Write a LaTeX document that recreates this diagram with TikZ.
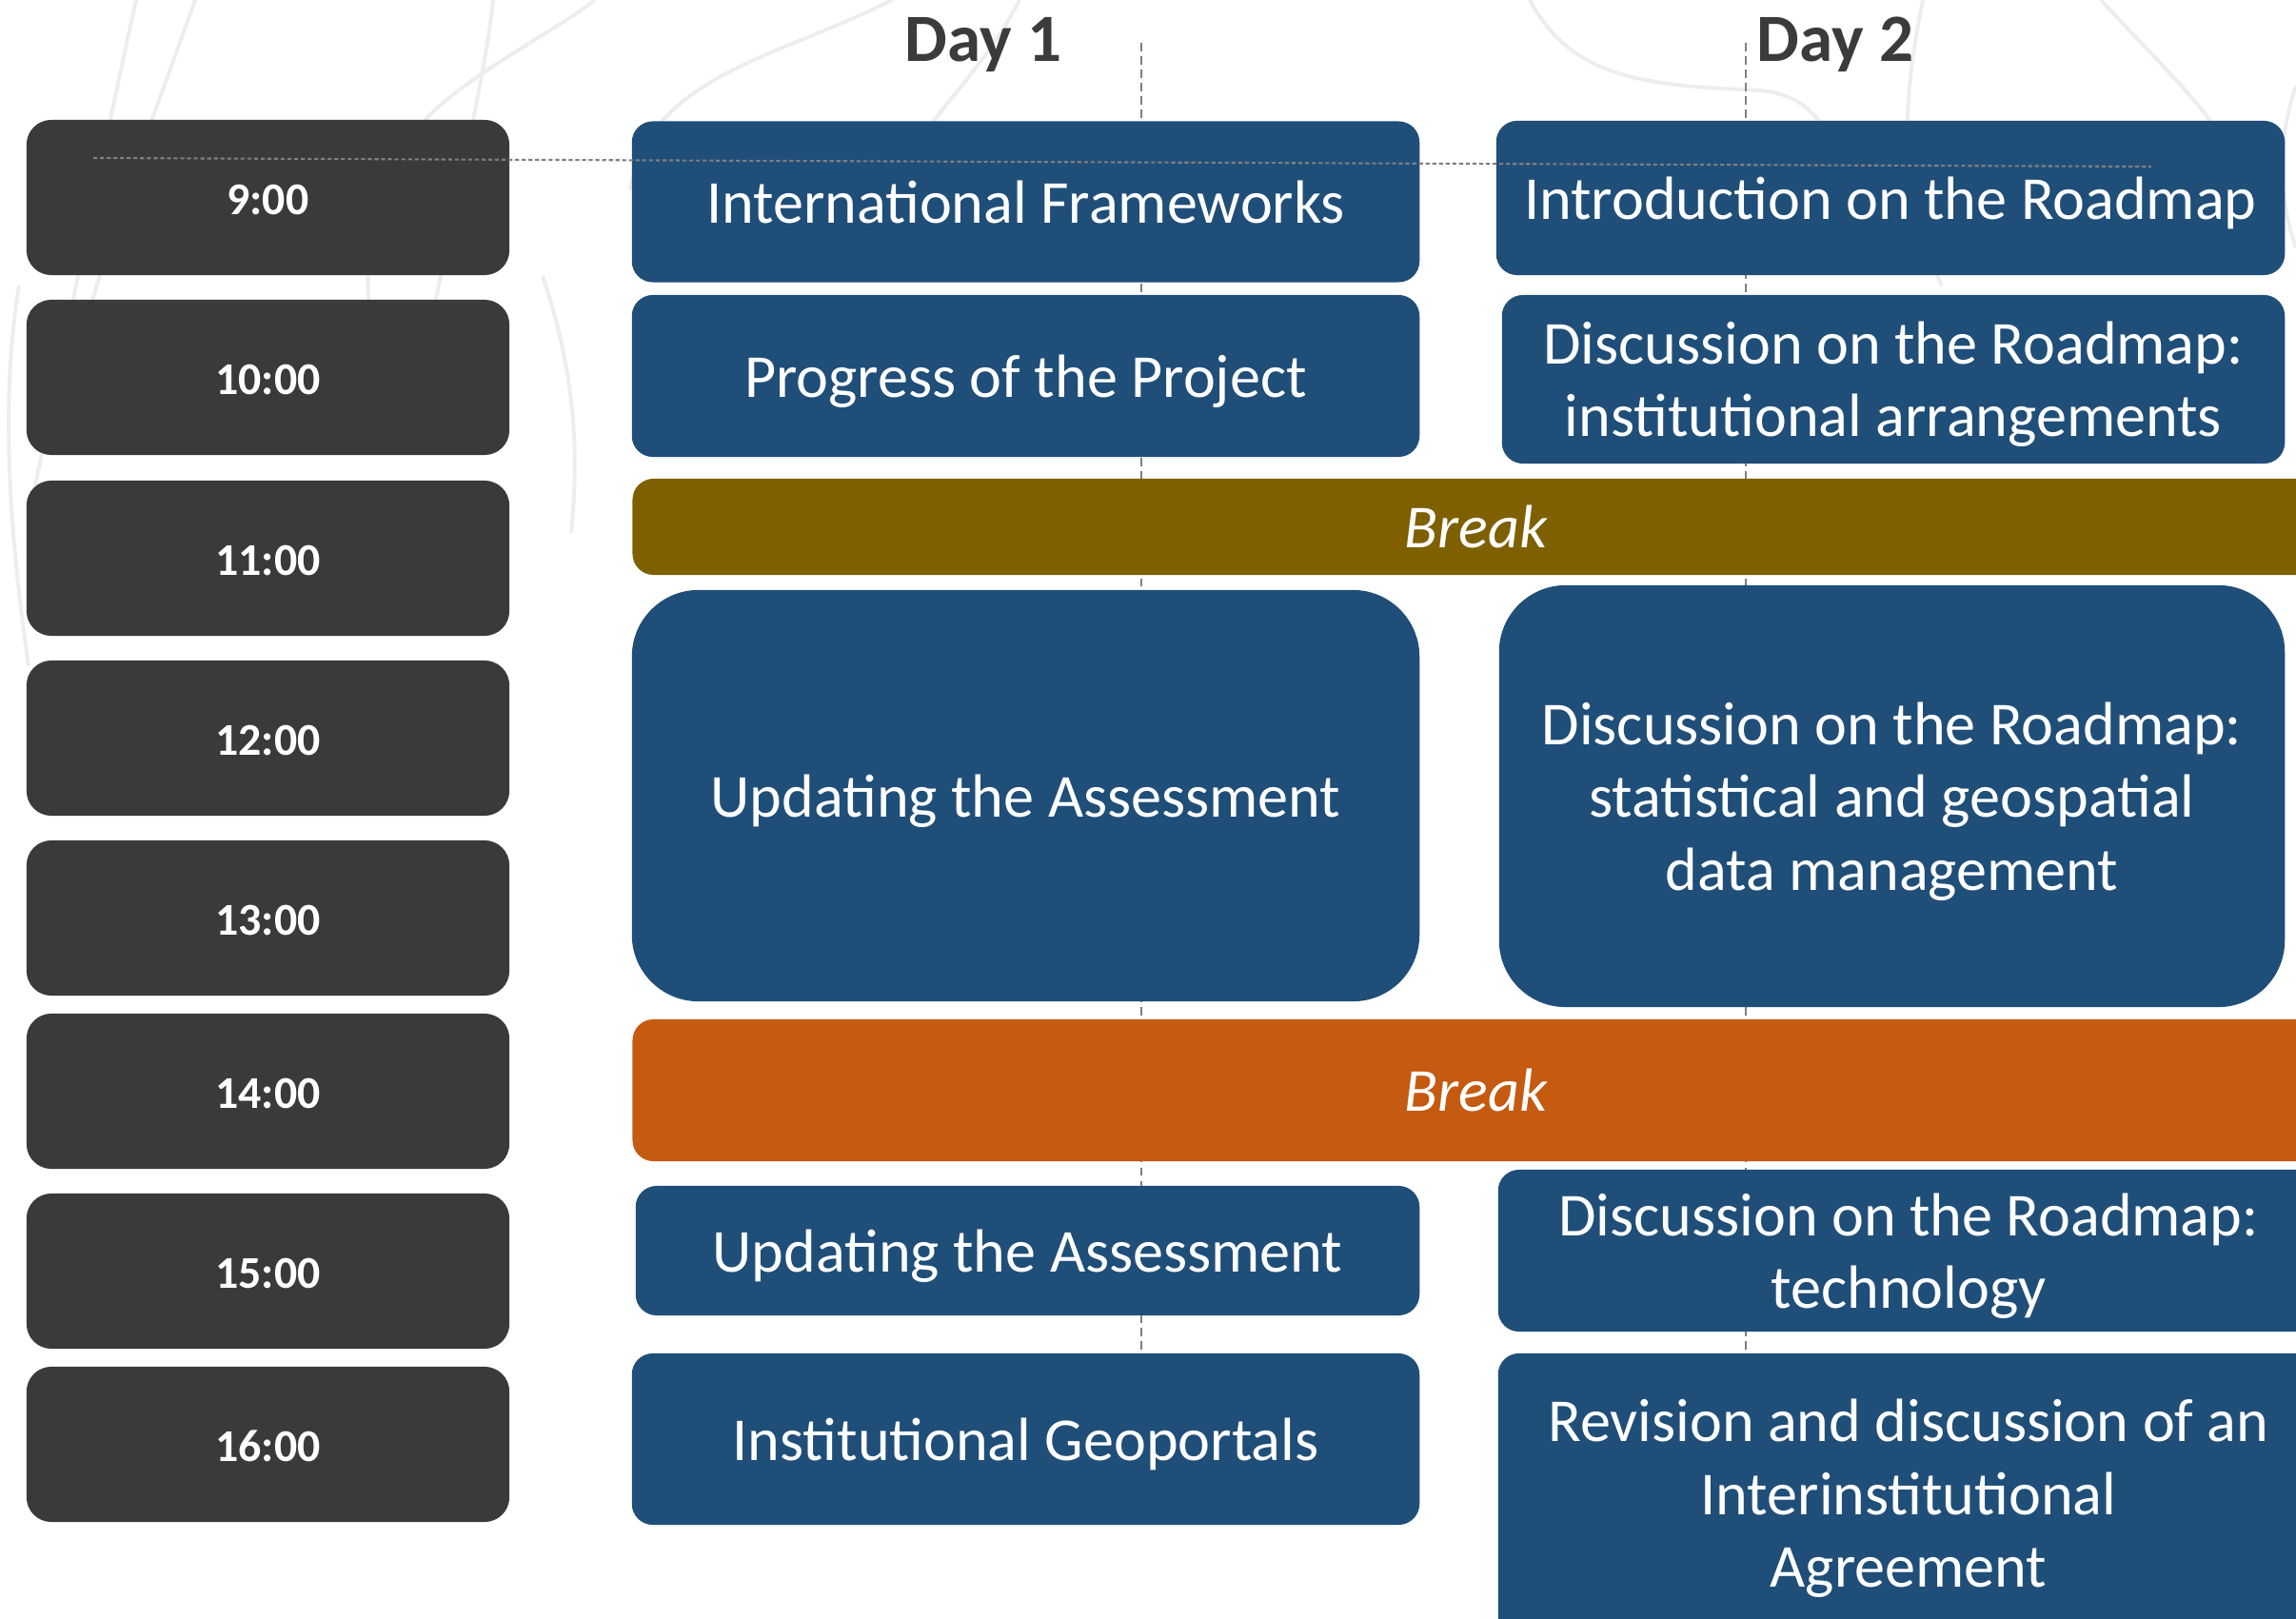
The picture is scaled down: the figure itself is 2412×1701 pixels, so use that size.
\documentclass[tikz,border=0pt]{standalone}
\usepackage{fontspec}
\setmainfont{Carlito}
\definecolor{tgray}{HTML}{3B3A38}
\definecolor{sblue}{HTML}{1F4E79}
\definecolor{olivebar}{HTML}{7F6000}
\definecolor{orangebar}{HTML}{C55A11}
\definecolor{daytext}{HTML}{3B3B3B}
\definecolor{guide}{HTML}{7F7F7F}
\definecolor{bgcurve}{HTML}{EDEDF0}
\begin{document}
\begin{tikzpicture}[x=0.01cm,y=-0.01cm,
  timebox/.style={fill=tgray, rounded corners=0.26cm, minimum width=5.07cm, minimum height=1.63cm,
    text=white, font=\bfseries\fontsize{13.6}{16}\selectfont, inner sep=0pt, text height=10.3pt, text depth=0pt},
  session/.style={fill=sblue, text=white, font=\fontsize{18.25}{21.7}\selectfont, align=center,
    rounded corners=0.22cm, inner sep=0pt, text depth=0pt},
  bigsession/.style={session, rounded corners=0.7cm},
  breakbar/.style={text=white, font=\itshape\fontsize{18.25}{21.7}\selectfont, rounded corners=0.22cm,
    inner sep=0pt, minimum width=17.71cm},
  daylabel/.style={text=daytext, font=\bfseries\fontsize{20.2}{24}\selectfont, anchor=base, inner sep=0pt},
  vguide/.style={guide, line width=0.5pt, dash pattern=on 2.5pt off 1.5pt},
  hguide/.style={guide, line width=0.6pt, dash pattern=on 1.2pt off 0.8pt},
  bgline/.style={bgcurve, line width=1.1pt}
]
\path[use as bounding box] (0,0) rectangle (2412,1701);
\clip (0,0) rectangle (2412,1701);
\fill[white] (0,0) rectangle (2412,1701);

% faint background curves
\draw[bgline] (1071,0) .. controls (1040,60) and (1000,100) .. (975,135);
\draw[bgline] (937,0) .. controls (820,60) and (680,80) .. (662,200);
\draw[bgline] (625,0) .. controls (560,50) and (440,100) .. (410,180) .. controls (385,240) and (380,300) .. (395,380);
\draw[bgline] (518,0) .. controls (510,80) and (480,200) .. (455,330);
\draw[bgline] (205,0) .. controls (170,100) and (110,250) .. (60,450);
\draw[bgline] (143,0) .. controls (110,150) and (80,300) .. (35,520);
\draw[bgline] (20,300) .. controls (0,420) and (10,560) .. (30,700);
\draw[bgline] (570,290) .. controls (600,380) and (610,460) .. (600,560);
\draw[bgline] (1607,0) .. controls (1650,80) and (1720,90) .. (1850,95) .. controls (1900,100) and (1920,130) .. (1950,200);
\draw[bgline] (2020,0) .. controls (2000,100) and (1990,200) .. (2040,300);
\draw[bgline] (2207,0) .. controls (2280,80) and (2340,130) .. (2360,200);
\draw[bgline] (2412,90) .. controls (2395,140) and (2390,200) .. (2412,260);

% vertical guides (behind boxes)
\coordinate (v1top) at (1199,45);
\coordinate (v1bot) at (1199,1480);
\coordinate (v2top) at (1834,45);
\coordinate (v2bot) at (1834,1480);
\draw[vguide] (v1top) -- (v1bot);
\draw[vguide] (v2top) -- (v2bot);

% day labels
\node[daylabel] (day1) at (1033,65) {Day 1};
\node[daylabel] (day2) at (1928,65) {Day 2};

% time boxes
\node[timebox] (t9)  at (281.5,207.5)  {9:00};
\node[timebox] (t10) at (281.5,396.5)  {10:00};
\node[timebox] (t11) at (281.5,586.5)  {11:00};
\node[timebox] (t12) at (281.5,775.5)  {12:00};
\node[timebox] (t13) at (281.5,964.5)  {13:00};
\node[timebox] (t14) at (281.5,1146.5) {14:00};
\node[timebox] (t15) at (281.5,1335.5) {15:00};
\node[timebox] (t16) at (281.5,1517.5) {16:00};

% day 1 sessions
\node[session, minimum width=8.27cm, minimum height=1.69cm] (d1a) at (1077.5,212) {International Frameworks};
\node[session, minimum width=8.27cm, minimum height=1.70cm] (d1b) at (1077.5,395) {Progress of the Project};
\node[bigsession, minimum width=8.27cm, minimum height=4.32cm] (d1c) at (1077.5,836) {Updating the Assessment};
\node[session, minimum width=8.23cm, minimum height=1.36cm] (d1d) at (1079.5,1314) {Updating the Assessment};
\node[session, minimum width=8.27cm, minimum height=1.80cm] (d1e) at (1077.5,1512) {Institutional Geoportals};

% day 2 sessions
\node[session, minimum width=8.28cm, minimum height=1.62cm] (d2a) at (1986,208) {Introduction on the Roadmap};
\node[session, minimum width=8.22cm, minimum height=1.77cm] (d2b) at (1989,398.5) {Discussion on the Roadmap:\\institutional arrangements};
\node[bigsession, minimum width=8.25cm, minimum height=4.43cm] (d2c) at (1987.5,836.5) {Discussion on the Roadmap:\\statistical and geospatial\\data management};
\node[session, minimum width=8.62cm, minimum height=1.70cm] (d2d) at (2005,1314) {Discussion on the Roadmap:\\technology};
\node[session, minimum width=8.62cm, minimum height=3.40cm] (d2e) at (2005,1592) {};
\node[session, fill=none] (d2etext) at (2005,1569) {Revision and discussion of an\\Interinstitutional\\Agreement};

% breaks
\node[breakbar, fill=olivebar, minimum height=1.01cm] (br1) at (1550.5,553.5) {Break};
\node[breakbar, fill=orangebar, minimum height=1.49cm] (br2) at (1550.5,1145.5) {Break};

% horizontal guide (on top)
\coordinate (hstart) at (98,166);
\coordinate (hend) at (2260,175);
\draw[hguide] (hstart) -- (hend);
\end{tikzpicture}
\end{document}
